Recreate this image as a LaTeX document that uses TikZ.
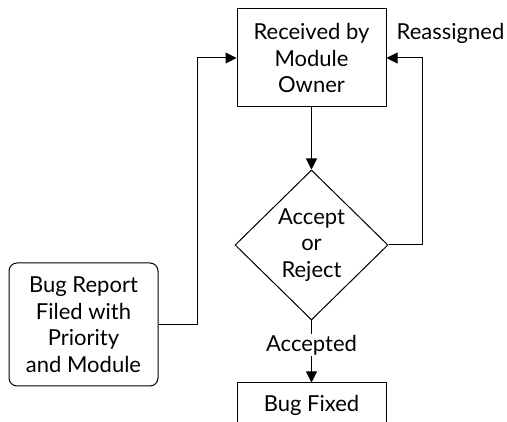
\documentclass[tikz,border=0pt]{standalone}
\usepackage{fontspec}
\setmainfont{Lato}
\usetikzlibrary{shapes.geometric,arrows.meta}
\begin{document}
\begin{tikzpicture}[x=1pt,y=-1pt,
  font=\fontsize{22}{26.5}\selectfont,
  line width=1pt,
  box/.style={draw,rectangle,align=center,inner sep=0pt,minimum width=149pt},
  rbox/.style={box,rounded corners=8pt},
  dia/.style={draw,diamond,align=center,inner sep=0pt,minimum width=153pt,minimum height=150pt},
  arr/.style={-{Triangle[length=11pt,width=11pt]}},
  lbl/.style={fill=white,inner sep=1pt}]
\clip (0,0) rectangle (507,422);
\useasboundingbox (0,0) rectangle (507,422);
\node[box,minimum height=98pt] (top) at (311.5,58) {Received by\\Module\\Owner};
\node[dia] (dec) at (311.5,245) {Accept\\or\\Reject};
\node[rbox,minimum height=123pt] (bug) at (83.5,324.5) {Bug Report\\Filed with\\Priority\\and Module};
\node[box,minimum height=44pt] (fix) at (311.5,405) {Bug Fixed};
\node (re) at (450.5,33) {Reassigned};
\draw[arr] (bug.east) -- ++(39,0) |- (top.west);
\draw[arr] (dec.east) -- ++(34,0) |- (top.east);
\draw[arr] (top.south) -- (dec.north);
\draw[arr] (dec.south) -- node[lbl,pos=0.4] {Accepted} (fix.north);
\end{tikzpicture}
\end{document}
